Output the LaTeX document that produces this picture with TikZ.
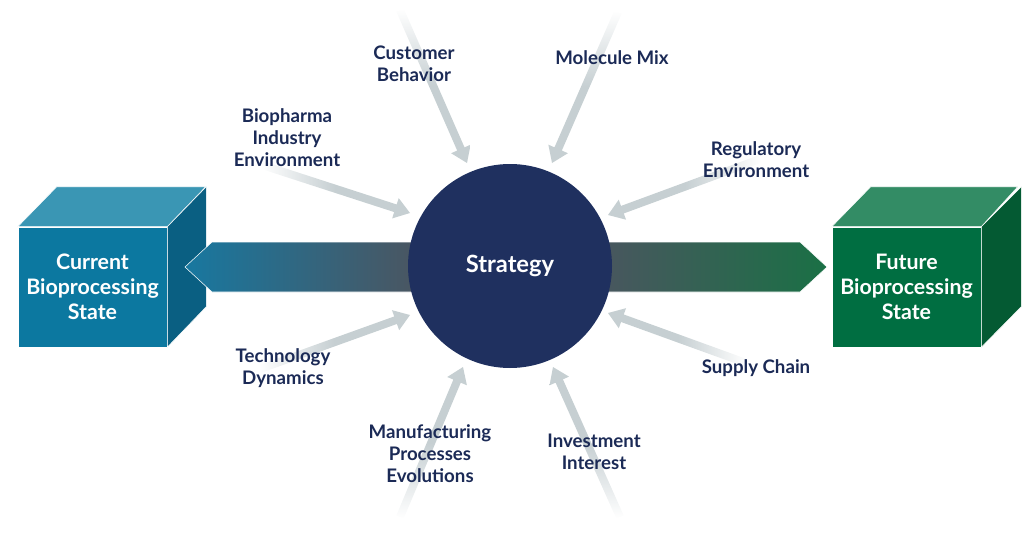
\documentclass[tikz,border=0pt]{standalone}
\usepackage{fontspec}
\setmainfont{Lato}
\usetikzlibrary{calc}

\definecolor{navy}{HTML}{1B2A56}
\definecolor{ball}{HTML}{1F305F}
\definecolor{pullgray}{HTML}{C6CFD2}
\definecolor{slate}{HTML}{4B5560}
\definecolor{curfront}{HTML}{0C78A0}
\definecolor{curtop}{HTML}{3A96B4}
\definecolor{curside}{HTML}{0A5F82}
\definecolor{curbar}{HTML}{1878A0}
\definecolor{futfront}{HTML}{006E41}
\definecolor{futtop}{HTML}{338C65}
\definecolor{futside}{HTML}{045A33}
\definecolor{futbar}{HTML}{1A7045}

\tikzstyle{factorlabel}=[text=navy, font=\fontsize{14}{16.5}\selectfont\bfseries, align=center]
\tikzstyle{statebox}=[minimum width=111.75pt, minimum height=90pt, inner sep=0pt, draw=white!70, line width=0.4pt, text=white, font=\fontsize{16}{18.75}\selectfont\bfseries, align=center]
\tikzstyle{cubeface}=[draw=white!70, line width=0.4pt]
\tikzstyle{pulldown}=[top color=white, bottom color=pullgray, middle color=pullgray]
\tikzstyle{pullup}=[top color=pullgray, bottom color=white, middle color=pullgray]
\tikzstyle{pullright}=[left color=white, right color=pullgray, middle color=pullgray]
\tikzstyle{pullleft}=[left color=pullgray, right color=white, middle color=pullgray]

\newcommand{\pullarrow}[3]{%
  \coordinate (h) at ($(#3)!11.5pt!(#2)$);
  \shade[#1] ($(#2)!3pt!90:(#3)$) -- ($(h)!3pt!-90:(#2)$) -- ($(h)!8pt!-90:(#2)$) -- (#3)
    -- ($(h)!8pt!90:(#2)$) -- ($(h)!3pt!90:(#2)$) -- ($(#2)!3pt!-90:(#3)$) -- cycle;
}

\begin{document}
\begin{tikzpicture}[x=0.75pt, y=-0.75pt]
  \useasboundingbox (0,0) rectangle (1035,542);

  \coordinate (bio) at (262,165);
  \coordinate (biotip) at (410,213);
  \coordinate (cust) at (400,10);
  \coordinate (custtip) at (467,163);
  \coordinate (mol) at (618,12);
  \coordinate (moltip) at (552,163);
  \coordinate (reg) at (760,159);
  \coordinate (regtip) at (608,215);
  \coordinate (tech) at (260,369);
  \coordinate (techtip) at (410,315);
  \coordinate (sup) at (746,363);
  \coordinate (suptip) at (608,313);
  \coordinate (manu) at (400,517);
  \coordinate (manutip) at (463,367);
  \coordinate (inv) at (620,517);
  \coordinate (invtip) at (553,367);

  \pullarrow{pullright}{bio}{biotip}
  \pullarrow{pulldown}{cust}{custtip}
  \pullarrow{pulldown}{mol}{moltip}
  \pullarrow{pullleft}{reg}{regtip}
  \pullarrow{pullright}{tech}{techtip}
  \pullarrow{pullleft}{sup}{suptip}
  \pullarrow{pullup}{manu}{manutip}
  \pullarrow{pullup}{inv}{invtip}

  \node[statebox, fill=curfront] (current) at (92.5,287) {Current\\Bioprocessing\\State};
  \filldraw[cubeface, fill=curtop] (current.north west) -- ++(39,-40) -- ++(149,0) -- (current.north east) -- cycle;
  \filldraw[cubeface, fill=curside] (current.north east) -- ++(39,-40) -- ++(0,120) -- (current.south east) -- cycle;

  \node[statebox, fill=futfront] (future) at (906.5,287) {Future\\Bioprocessing\\State};
  \filldraw[cubeface, fill=futtop] (future.north west) -- ++(39,-40) -- ++(147,0) -- (future.north east) -- cycle;
  \filldraw[cubeface, fill=futside] (future.north east) -- ++(40,-40) -- ++(0,120) -- (future.south east) -- cycle;

  \coordinate (back) at (185,267);
  \coordinate (forth) at (827,267);
  \shadedraw[left color=curbar, right color=slate, draw=white!70, line width=0.4pt]
    (back) -- ++(27,-25) -- ++(208,0) -- ++(0,50) -- ++(-208,0) -- cycle;
  \shadedraw[left color=slate, right color=futbar, draw=white!70, line width=0.4pt]
    (forth) -- ++(-27,-25) -- ++(-208,0) -- ++(0,50) -- ++(208,0) -- cycle;

  \node[circle, fill=ball, minimum size=153pt, text=white, font=\fontsize{17.8}{20}\selectfont\bfseries] (strategy) at (510,266) {Strategy};

  \node[factorlabel] (customer) at (414,64) {Customer\\Behavior};
  \node[factorlabel] (molecule) at (612,58) {Molecule Mix};
  \node[factorlabel] (biopharma) at (287,138) {Biopharma\\Industry\\Environment};
  \node[factorlabel] (regulatory) at (756,160) {Regulatory\\Environment};
  \node[factorlabel] (technology) at (283,368) {Technology\\Dynamics};
  \node[factorlabel] (supply) at (756,368) {Supply Chain};
  \node[factorlabel] (manufacturing) at (430,454) {Manufacturing\\Processes\\Evolutions};
  \node[factorlabel] (investment) at (594,452) {Investment\\Interest};
\end{tikzpicture}
\end{document}
